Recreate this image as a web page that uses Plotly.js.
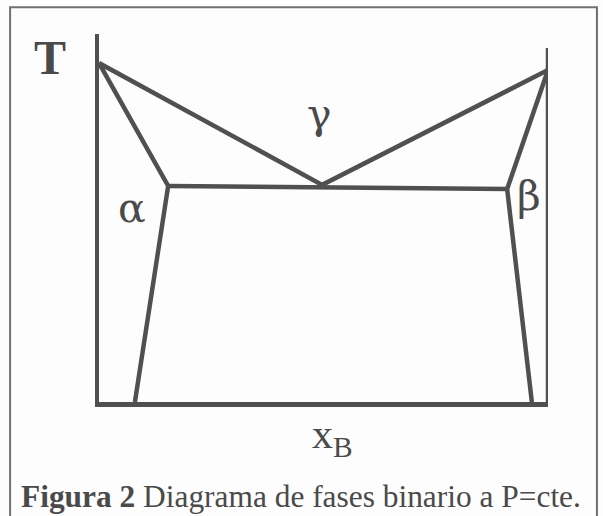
<!DOCTYPE html>
<html>
<head>
<meta charset="utf-8">
<script src="https://cdn.plot.ly/plotly-3.0.1.min.js"></script>
<style>html,body{margin:0;padding:0;background:#fdfdfd;}</style>
</head>
<body>
<div id="chart" style="width:603px;height:516px;"></div>
<script>
// Composition x_B (0..1) and temperature T (relative units)
const liquidusX = [0, 0.497, 1];
const liquidusT = [0.921, 0.590, 0.902];
const alphaX = [0, 0.154, 0.080];
const alphaT = [0.921, 0.587, 0];
const betaX = [1, 0.909, 0.964];
const betaT = [0.902, 0.579, 0];
const eutecticX = [0.154, 0.909];
const eutecticT = [0.587, 0.579];
const rightEdgeX = [1, 1];
const rightEdgeT = [0, 0.962];

const phaseLabels = ['γ', 'α', 'β'];
const phaseLabelX = [0.492, 0.073, 0.958];
const phaseLabelT = [0.783, 0.527, 0.560];

const lineColor = '#505050';
const textColor = '#4a4a4a';
const serif = 'Liberation Serif, Times New Roman, serif';
const greekFont = 'DejaVu Serif, serif';

function seg(x, y) {
  return {x: x, y: y, type: 'scatter', mode: 'lines', hoverinfo: 'skip',
          line: {color: lineColor, width: 4.5}, cliponaxis: false, showlegend: false};
}

const data = [
  seg(liquidusX, liquidusT),
  seg(alphaX, alphaT),
  seg(betaX, betaT),
  seg(eutecticX, eutecticT),
  seg(rightEdgeX, rightEdgeT)
];

const annotations = phaseLabels.map((t, i) => ({
  x: phaseLabelX[i], y: phaseLabelT[i], xref: 'x', yref: 'y', text: t, showarrow: false,
  xanchor: 'center', yanchor: 'middle',
  font: {family: greekFont, size: 41, color: textColor}
}));
annotations.push({x: -0.109, y: 0.935, xref: 'paper', yref: 'paper', text: '<b>T</b>', showarrow: false,
  xanchor: 'center', yanchor: 'middle',
  font: {family: serif, size: 48, color: textColor}});
annotations.push({x: 0.52, y: -0.094, xref: 'paper', yref: 'paper', text: 'x<sub>B</sub>', showarrow: false,
  xanchor: 'center', yanchor: 'middle',
  font: {family: serif, size: 42, color: textColor}});
annotations.push({x: 0.451, y: -0.258, xref: 'paper', yref: 'paper',
  text: '<b>Figura 2</b> Diagrama de fases binario a P=cte.', showarrow: false,
  xanchor: 'center', yanchor: 'middle',
  font: {family: serif, size: 31.4, color: textColor}});

const layout = {
  width: 603, height: 516,
  margin: {l: 99, r: 55, t: 34, b: 114},
  paper_bgcolor: '#fdfdfd', plot_bgcolor: '#fdfdfd',
  showlegend: false,
  xaxis: {range: [0, 1], showgrid: false, zeroline: false, showticklabels: false, ticks: '',
          showline: true, linecolor: lineColor, linewidth: 4.5, fixedrange: true},
  yaxis: {range: [0, 1], showgrid: false, zeroline: false, showticklabels: false, ticks: '',
          showline: true, linecolor: lineColor, linewidth: 4.5, fixedrange: true},
  annotations: annotations,
  shapes: [{type: 'rect', xref: 'paper', yref: 'paper', x0: -0.198, x1: 1.109, y0: -0.36, y1: 1.073,
            line: {color: '#707070', width: 2}, fillcolor: 'rgba(0,0,0,0)'}]
};

Plotly.newPlot('chart', data, layout, {displayModeBar: false, staticPlot: true});
</script>
</body>
</html>
